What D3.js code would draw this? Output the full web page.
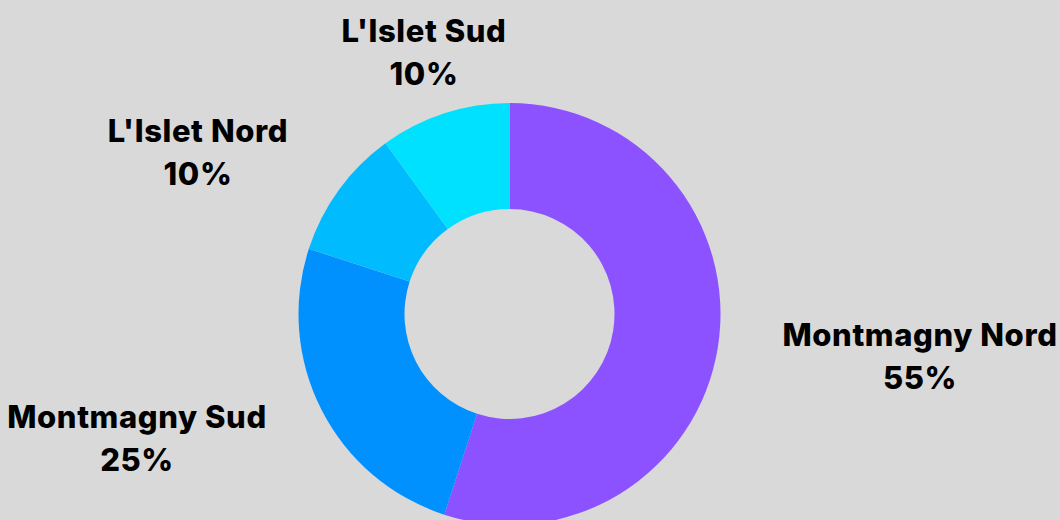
<!DOCTYPE html>
<html><head><meta charset="utf-8">
<script src="https://cdn.jsdelivr.net/npm/d3@7"></script>
<style>
html,body{margin:0;padding:0;background:#d9d9d9;}
svg{display:block;}
text{font-family:"Inter","Lato",sans-serif;font-weight:800;fill:#000;letter-spacing:0.6px;}
</style></head>
<body><svg id="c" width="1060" height="520"></svg>
<script>
const categories = ["Montmagny Nord", "Montmagny Sud", "L'Islet Nord", "L'Islet Sud"];
const values = [55, 25, 10, 10];
const colors = ["#8c52ff", "#0091ff", "#00bcff", "#00e1ff"];

const W = 1060, H = 520;
const cx = 509.5, cy = 314, outerR = 211, innerR = 105;
// label anchor points (layout, centre of first line baseline)
const labelXY = [[920, 346], [137, 428], [198, 142], [424, 42]];

const svg = d3.select("#c");
svg.append("rect").attr("width", W).attr("height", H).attr("fill", "#d9d9d9");

const pie = d3.pie().sort(null).value(d => d.v);
const arc = d3.arc().innerRadius(innerR).outerRadius(outerR);
const color = d3.scaleOrdinal().domain(categories).range(colors);
const data = categories.map((c, i) => ({c, v: values[i]}));
const total = d3.sum(values);

const g = svg.append("g").attr("transform", `translate(${cx},${cy})`);
g.selectAll("path").data(pie(data)).join("path")
  .attr("d", arc).attr("fill", d => color(d.data.c));

const lab = svg.append("g");
data.forEach((d, i) => {
  const [x, y] = labelXY[i];
  const t = lab.append("text").attr("text-anchor", "middle").attr("font-size", 31);
  t.append("tspan").attr("x", x).attr("y", y).text(d.c);
  t.append("tspan").attr("x", x).attr("y", y + 43).text(Math.round(d.v / total * 100) + "%");
});
</script></body></html>
